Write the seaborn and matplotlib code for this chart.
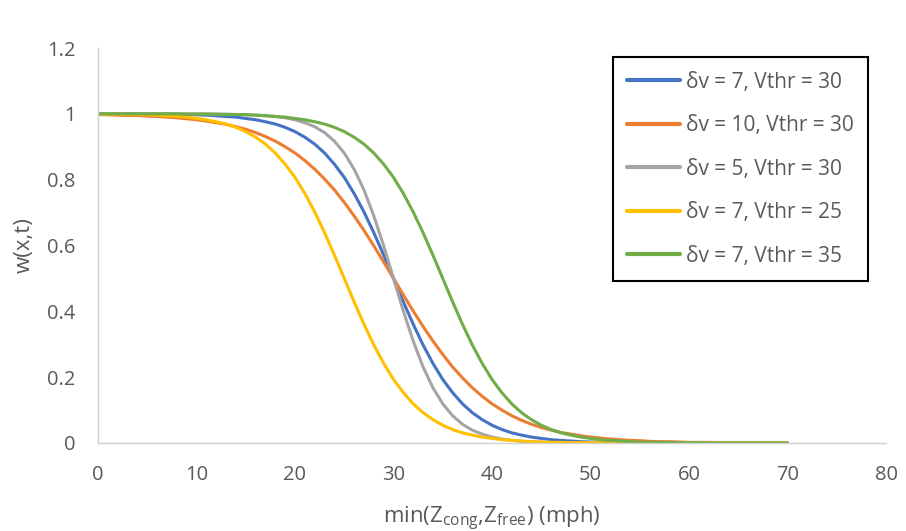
import numpy as np
import pandas as pd
import matplotlib
matplotlib.use("Agg")
import matplotlib.pyplot as plt
from matplotlib.ticker import FuncFormatter
import seaborn as sns

# ---- data (1 mph steps 0..70) ----
speed = list(range(0, 71))

w_dv7_v30 = [1.000, 1.000, 1.000, 1.000, 0.999, 0.999, 0.999, 0.999, 0.998, 0.998,
             0.997, 0.996, 0.994, 0.992, 0.990, 0.986, 0.982, 0.976, 0.969, 0.959,
             0.946, 0.929, 0.908, 0.881, 0.847, 0.807, 0.758, 0.702, 0.639, 0.571,
             0.500, 0.429, 0.361, 0.298, 0.242, 0.193, 0.153, 0.119, 0.092, 0.071,
             0.054, 0.041, 0.031, 0.024, 0.018, 0.014, 0.010, 0.008, 0.006, 0.004,
             0.003, 0.002, 0.002, 0.001, 0.001, 0.001, 0.001, 0.000, 0.000, 0.000,
             0.000, 0.000, 0.000, 0.000, 0.000, 0.000, 0.000, 0.000, 0.000, 0.000,
             0.000]

w_dv10_v30 = [0.998, 0.997, 0.996, 0.995, 0.995, 0.993, 0.992, 0.990, 0.988, 0.985,
              0.982, 0.978, 0.973, 0.968, 0.961, 0.953, 0.943, 0.931, 0.917, 0.900,
              0.881, 0.858, 0.832, 0.802, 0.769, 0.731, 0.690, 0.646, 0.599, 0.550,
              0.500, 0.450, 0.401, 0.354, 0.310, 0.269, 0.231, 0.198, 0.168, 0.142,
              0.119, 0.100, 0.083, 0.069, 0.057, 0.047, 0.039, 0.032, 0.027, 0.022,
              0.018, 0.015, 0.012, 0.010, 0.008, 0.007, 0.005, 0.004, 0.004, 0.003,
              0.002, 0.002, 0.002, 0.001, 0.001, 0.001, 0.001, 0.001, 0.001, 0.000,
              0.000]

w_dv5_v30 = [1.000, 1.000, 1.000, 1.000, 1.000, 1.000, 1.000, 1.000, 1.000, 1.000,
             1.000, 1.000, 0.999, 0.999, 0.998, 0.998, 0.996, 0.995, 0.992, 0.988,
             0.982, 0.973, 0.961, 0.943, 0.917, 0.881, 0.832, 0.769, 0.690, 0.599,
             0.500, 0.401, 0.310, 0.231, 0.168, 0.119, 0.083, 0.057, 0.039, 0.027,
             0.018, 0.012, 0.008, 0.005, 0.004, 0.002, 0.002, 0.001, 0.001, 0.001,
             0.000, 0.000, 0.000, 0.000, 0.000, 0.000, 0.000, 0.000, 0.000, 0.000,
             0.000, 0.000, 0.000, 0.000, 0.000, 0.000, 0.000, 0.000, 0.000, 0.000,
             0.000]

w_dv7_v25 = [0.999, 0.999, 0.999, 0.998, 0.998, 0.997, 0.996, 0.994, 0.992, 0.990,
             0.986, 0.982, 0.976, 0.969, 0.959, 0.946, 0.929, 0.908, 0.881, 0.847,
             0.807, 0.758, 0.702, 0.639, 0.571, 0.500, 0.429, 0.361, 0.298, 0.242,
             0.193, 0.153, 0.119, 0.092, 0.071, 0.054, 0.041, 0.031, 0.024, 0.018,
             0.014, 0.010, 0.008, 0.006, 0.004, 0.003, 0.002, 0.002, 0.001, 0.001,
             0.001, 0.001, 0.000, 0.000, 0.000, 0.000, 0.000, 0.000, 0.000, 0.000,
             0.000, 0.000, 0.000, 0.000, 0.000, 0.000, 0.000, 0.000, 0.000, 0.000,
             0.000]

w_dv7_v35 = [1.000, 1.000, 1.000, 1.000, 1.000, 1.000, 1.000, 1.000, 1.000, 0.999,
             0.999, 0.999, 0.999, 0.998, 0.998, 0.997, 0.996, 0.994, 0.992, 0.990,
             0.986, 0.982, 0.976, 0.969, 0.959, 0.946, 0.929, 0.908, 0.881, 0.847,
             0.807, 0.758, 0.702, 0.639, 0.571, 0.500, 0.429, 0.361, 0.298, 0.242,
             0.193, 0.153, 0.119, 0.092, 0.071, 0.054, 0.041, 0.031, 0.024, 0.018,
             0.014, 0.010, 0.008, 0.006, 0.004, 0.003, 0.002, 0.002, 0.001, 0.001,
             0.001, 0.001, 0.000, 0.000, 0.000, 0.000, 0.000, 0.000, 0.000, 0.000,
             0.000]

series_labels = ["δv = 7, Vthr = 30", "δv = 10, Vthr = 30", "δv = 5, Vthr = 30",
                 "δv = 7, Vthr = 25", "δv = 7, Vthr = 35"]
series_values = [w_dv7_v30, w_dv10_v30, w_dv5_v30, w_dv7_v25, w_dv7_v35]
colors = ["#4472C4", "#ED7D31", "#A5A5A5", "#FFC000", "#70AD47"]

x_ticks = [0, 10, 20, 30, 40, 50, 60, 70, 80]
y_ticks = [0, 0.2, 0.4, 0.6, 0.8, 1.0, 1.2]

frames = []
for lab, vals in zip(series_labels, series_values):
    frames.append(pd.DataFrame({"speed": speed, "w": vals, "series": lab}))
df = pd.concat(frames, ignore_index=True)

# ---- figure ----
sns.set_theme(style="white")
plt.rcParams["font.family"] = ["Open Sans", "DejaVu Sans"]

fig = plt.figure(figsize=(9.06, 5.31), dpi=100)
ax = fig.add_axes([98 / 906, 1 - 443 / 531, (886 - 98) / 906, (443 - 48) / 531])

sns.lineplot(data=df, x="speed", y="w", hue="series", hue_order=series_labels,
             palette=colors, linewidth=2.2, ax=ax, legend=True)

ax.set_xlim(0, 80)
ax.set_ylim(0, 1.2)
ax.set_xticks(x_ticks)
ax.set_yticks(y_ticks)
ax.yaxis.set_major_formatter(FuncFormatter(lambda v, p: f"{v:g}"))
ax.tick_params(axis="both", length=0, labelsize=14.5, colors="#595959")
ax.tick_params(axis="y", pad=16)
ax.tick_params(axis="x", pad=16)

for s in ["top", "right"]:
    ax.spines[s].set_visible(False)
for s in ["left", "bottom"]:
    ax.spines[s].set_color("#D0D0D0")
    ax.spines[s].set_linewidth(1.0)

ax.set_xlabel(r"min(Z$_{\mathregular{cong}}$,Z$_{\mathregular{free}}$) (mph)",
              fontsize=16, color="#595959", labelpad=14)
ax.set_ylabel("w(x,t)", fontsize=16, color="#595959", labelpad=9)

handles, labels = ax.get_legend_handles_labels()
leg = ax.legend(handles, labels, loc="upper right",
                bbox_to_anchor=(868 / 906, 1 - 57 / 531),
                bbox_transform=fig.transFigure,
                fontsize=15, frameon=True, fancybox=False, framealpha=1,
                edgecolor="black", handlelength=2.55, handletextpad=0.25,
                labelspacing=1.08, borderpad=0.7, borderaxespad=0)
leg.get_frame().set_linewidth(1.5)
for t in leg.get_texts():
    t.set_color("#595959")
for h in leg.get_lines():
    h.set_linewidth(3)

fig.savefig("out.png", dpi=100)
